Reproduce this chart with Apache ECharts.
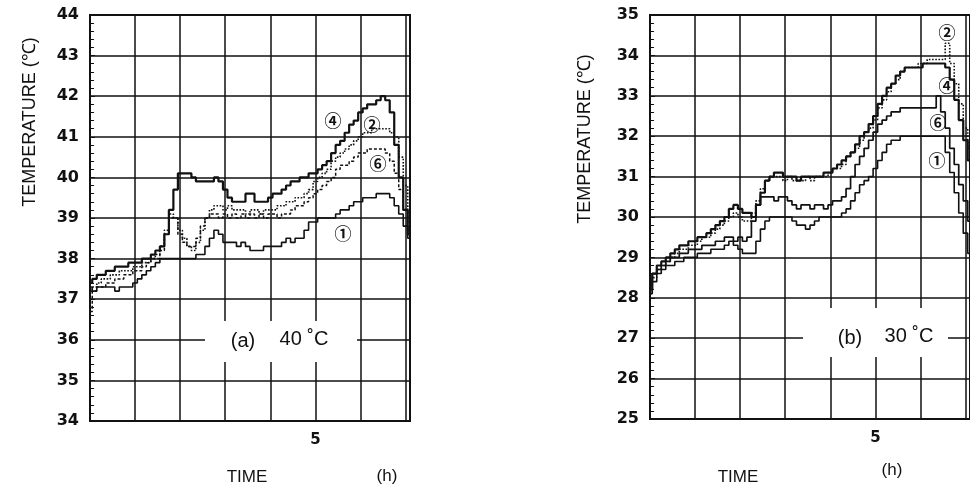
<!DOCTYPE html>
<html>
<head>
<meta charset="utf-8">
<script src="https://cdn.jsdelivr.net/npm/echarts@6/dist/echarts.min.js"></script>
<style>
  html, body { margin: 0; padding: 0; background: #fff; }
  #chart { width: 970px; height: 490px; }
</style>
</head>
<body>
<div id="chart"></div>
<script>
// time axis (h), shared by every curve
const hours = [
  0.0, 0.1, 0.2, 0.3, 0.4, 0.5, 0.6, 0.7, 0.8, 0.9,
  1.0, 1.1, 1.2, 1.3, 1.4, 1.5, 1.6, 1.7, 1.8, 1.9,
  2.0, 2.1, 2.2, 2.3, 2.4, 2.5, 2.6, 2.7, 2.8, 2.9,
  3.0, 3.1, 3.2, 3.3, 3.4, 3.5, 3.6, 3.7, 3.8, 3.9,
  4.0, 4.1, 4.2, 4.3, 4.4, 4.5, 4.6, 4.7, 4.8, 4.9,
  5.0, 5.1, 5.2, 5.3, 5.4, 5.5, 5.6, 5.7, 5.8, 5.9,
  6.0, 6.1, 6.2, 6.3, 6.4, 6.5, 6.6, 6.7, 6.8, 6.9,
  7.0, 7.1
];

// (a) 40 °C
const tempA4 = [
  37.4, 37.5, 37.6, 37.6, 37.7, 37.7, 37.8, 37.8, 37.8, 37.9,
  37.9, 37.9, 38.0, 38.0, 38.1, 38.2, 38.3, 38.6, 39.2, 39.7,
  40.1, 40.1, 40.1, 40.0, 39.9, 39.9, 39.9, 39.9, 40.0, 39.9,
  39.7, 39.5, 39.4, 39.4, 39.4, 39.6, 39.6, 39.4, 39.4, 39.4,
  39.5, 39.6, 39.6, 39.7, 39.8, 39.9, 39.9, 40.0, 40.0, 40.1,
  40.1, 40.2, 40.3, 40.4, 40.6, 40.8, 40.9, 41.1, 41.3, 41.4,
  41.6, 41.7, 41.8, 41.8, 41.9, 42.0, 41.9, 41.6, 40.8, 40.0,
  39.2, 38.6
];
const tempA2 = [
  37.2, 37.3, 37.4, 37.5, 37.5, 37.6, 37.6, 37.7, 37.7, 37.7,
  37.8, 37.8, 37.9, 37.9, 38.0, 38.1, 38.3, 38.7, 39.1, 39.0,
  38.7, 38.5, 38.3, 38.2, 38.4, 38.7, 39.0, 39.2, 39.3, 39.3,
  39.2, 39.3, 39.2, 39.2, 39.2, 39.1, 39.2, 39.2, 39.1, 39.2,
  39.2, 39.2, 39.3, 39.3, 39.4, 39.4, 39.5, 39.5, 39.6, 39.7,
  39.9, 40.0, 40.1, 40.2, 40.4, 40.5, 40.6, 40.7, 40.8, 40.9,
  41.0, 41.1, 41.1, 41.2, 41.2, 41.2, 41.2, 41.1, 41.0, 40.5,
  39.8, 39.1
];
const tempA6 = [
  36.7, 37.2, 37.3, 37.3, 37.4, 37.4, 37.5, 37.5, 37.6, 37.6,
  37.7, 37.7, 37.8, 37.9, 38.0, 38.0, 38.2, 38.6, 39.0, 39.0,
  38.6, 38.4, 38.3, 38.3, 38.5, 38.8, 39.0, 39.1, 39.1, 39.0,
  39.1, 39.0, 39.1, 39.0, 39.1, 39.0, 39.1, 39.0, 39.1, 39.0,
  39.1, 39.1, 39.0, 39.1, 39.1, 39.2, 39.3, 39.3, 39.4, 39.5,
  39.6, 39.7, 39.8, 39.9, 40.0, 40.2, 40.3, 40.3, 40.4, 40.5,
  40.6, 40.6, 40.7, 40.7, 40.7, 40.7, 40.6, 40.4, 40.1, 39.7,
  39.2, 38.7
];
const tempA1 = [
  37.3, 37.2, 37.3, 37.3, 37.3, 37.3, 37.2, 37.3, 37.3, 37.3,
  37.4, 37.5, 37.6, 37.7, 37.8, 37.9, 38.0, 38.0, 38.0, 38.0,
  38.0, 38.0, 38.0, 38.0, 38.1, 38.1, 38.3, 38.5, 38.7, 38.6,
  38.4, 38.4, 38.4, 38.3, 38.4, 38.3, 38.2, 38.2, 38.2, 38.3,
  38.3, 38.3, 38.3, 38.4, 38.5, 38.4, 38.5, 38.5, 38.7, 38.9,
  38.9, 39.0, 39.0, 39.0, 39.0, 39.1, 39.2, 39.2, 39.3, 39.4,
  39.4, 39.5, 39.5, 39.5, 39.6, 39.6, 39.6, 39.5, 39.3, 39.1,
  38.8, 38.5
];

// (b) 30 °C
const tempB4 = [
  28.2, 28.6, 28.8, 28.9, 29.0, 29.1, 29.2, 29.3, 29.3, 29.4,
  29.4, 29.5, 29.5, 29.6, 29.7, 29.8, 29.9, 30.0, 30.2, 30.3,
  30.2, 30.1, 30.1, 30.0, 30.3, 30.6, 30.9, 31.0, 31.1, 31.1,
  31.0, 31.0, 31.0, 30.9, 31.0, 31.0, 31.0, 31.0, 31.0, 31.1,
  31.1, 31.2, 31.3, 31.4, 31.5, 31.6, 31.8, 32.0, 32.1, 32.3,
  32.5, 32.8, 33.0, 33.2, 33.3, 33.5, 33.6, 33.7, 33.7, 33.7,
  33.7, 33.8, 33.8, 33.8, 33.8, 33.8, 33.7, 33.4, 32.9, 32.4,
  31.9, 31.4
];
const tempB2 = [
  28.1, 28.5, 28.7, 28.8, 28.9, 29.0, 29.1, 29.2, 29.2, 29.3,
  29.3, 29.4, 29.5, 29.5, 29.6, 29.7, 29.8, 29.9, 30.0, 30.1,
  30.0, 29.9, 29.9, 30.1, 30.4, 30.7, 30.9, 31.0, 31.0, 31.0,
  30.9, 31.0, 30.9, 30.9, 30.9, 31.0, 30.9, 31.0, 31.0, 31.0,
  31.1, 31.2, 31.2, 31.3, 31.5, 31.6, 31.7, 31.9, 32.1, 32.2,
  32.4, 32.7, 32.9, 33.1, 33.3, 33.4, 33.6, 33.7, 33.7, 33.7,
  33.8, 33.8, 33.9, 33.9, 33.9, 33.9, 34.3, 33.8, 33.3, 32.8,
  32.2, 31.7
];
const tempB6 = [
  28.3, 28.6, 28.7, 28.8, 28.9, 29.0, 29.0, 29.1, 29.1, 29.2,
  29.2, 29.2, 29.3, 29.3, 29.3, 29.4, 29.4, 29.5, 29.5, 29.4,
  29.5, 29.4, 29.5, 29.9, 30.3, 30.5, 30.5, 30.5, 30.4, 30.5,
  30.5, 30.4, 30.3, 30.2, 30.3, 30.3, 30.2, 30.3, 30.3, 30.2,
  30.3, 30.4, 30.4, 30.5, 30.7, 31.0, 31.3, 31.5, 31.7, 31.9,
  32.1, 32.3, 32.4, 32.5, 32.6, 32.6, 32.7, 32.7, 32.7, 32.7,
  32.7, 32.7, 32.7, 32.7, 33.0, 32.6, 32.2, 31.7, 31.3, 30.8,
  30.4, 29.9
];
const tempB1 = [
  28.1, 28.4, 28.6, 28.7, 28.8, 28.8, 28.9, 28.9, 29.0, 29.0,
  29.0, 29.1, 29.1, 29.1, 29.2, 29.2, 29.2, 29.3, 29.4, 29.3,
  29.2, 29.1, 29.1, 29.1, 29.4, 29.7, 29.9, 30.0, 30.0, 30.0,
  30.0, 30.0, 29.9, 29.8, 29.8, 29.7, 29.8, 29.9, 30.0, 30.0,
  30.0, 30.0, 30.0, 30.1, 30.2, 30.4, 30.6, 30.8, 30.9, 31.0,
  31.2, 31.4, 31.6, 31.8, 31.9, 31.9, 32.0, 32.0, 32.0, 32.0,
  32.0, 32.0, 32.0, 32.0, 32.0, 32.0, 31.6, 31.1, 30.6, 30.1,
  29.6, 29.1
];

const xLabelShown = [5];
const yRangeA = [34, 44];
const yRangeB = [25, 35];

const ink = '#111';
const pair = (ys) => hours.map((h, i) => [h, ys[i]]);

const curve = (name, ys, idx, width, type) => ({
  name: name,
  type: 'line',
  xAxisIndex: idx,
  yAxisIndex: idx,
  data: pair(ys),
  showSymbol: false,
  step: 'middle',
  lineStyle: { color: ink, width: width, type: type },
  silent: true,
  z: 3
});

const xAxisOf = (idx) => ({
  type: 'value',
  gridIndex: idx,
  min: 0,
  max: 7.1,
  interval: 1,
  axisLine: { lineStyle: { color: ink, width: 2 } },
  axisTick: { show: false },
  splitLine: { show: true, lineStyle: { color: ink, width: 1.5 } },
  axisLabel: {
    margin: 12,
    color: ink,
    fontFamily: 'DejaVu Sans',
    fontWeight: 'bold',
    fontSize: 15,
    showMinLabel: false,
    showMaxLabel: false,
    formatter: (v) => xLabelShown.includes(v) ? String(v) : ''
  }
});

const yAxisOf = (idx, range) => ({
  type: 'value',
  gridIndex: idx,
  min: range[0],
  max: range[1],
  interval: 1,
  axisLine: { show: true, lineStyle: { color: ink, width: 2 } },
  axisTick: { show: true, inside: true, length: 5, lineStyle: { color: ink } },
  minorTick: { show: true, splitNumber: 5, length: 4, lineStyle: { color: ink, width: 1 } },
  splitLine: { show: true, lineStyle: { color: ink, width: 1.5 } },
  axisLabel: {
    margin: 11,
    color: ink,
    fontFamily: 'DejaVu Sans',
    fontWeight: 'bold',
    fontSize: 16
  }
});

const txt = (x, y, text, size, extra) => Object.assign({
  type: 'text',
  x: x,
  y: y,
  z: 100,
  style: {
    text: text,
    fill: ink,
    font: size + 'px "Liberation Sans", sans-serif',
    textAlign: 'center',
    textVerticalAlign: 'middle'
  }
}, extra || {});

const circ = (x, y, text) => txt(x, y, text, 17, {
  style: {
    text: text,
    fill: ink,
    font: 'bold 17px "Noto Sans CJK JP"',
    textAlign: 'center',
    textVerticalAlign: 'middle'
  }
});

const chart = echarts.init(document.getElementById('chart'), null, { renderer: 'canvas' });

chart.setOption({
  animation: false,
  backgroundColor: '#fff',
  grid: [
    { left: 90, top: 15, width: 320, height: 406, show: true, borderColor: ink, borderWidth: 2, backgroundColor: 'transparent' },
    { left: 650, top: 15, width: 329, height: 404, show: true, borderColor: ink, borderWidth: 2, backgroundColor: 'transparent' }
  ],
  xAxis: [xAxisOf(0), xAxisOf(1)],
  yAxis: [yAxisOf(0, yRangeA), yAxisOf(1, yRangeB)],
  series: [
    curve('① a', tempA1, 0, 1.6, 'solid'),
    curve('② a', tempA2, 0, 1.6, 'dotted'),
    curve('④ a', tempA4, 0, 2.2, 'solid'),
    curve('⑥ a', tempA6, 0, 1.5, [3, 2]),
    curve('① b', tempB1, 1, 1.6, 'solid'),
    curve('② b', tempB2, 1, 1.6, 'dotted'),
    curve('④ b', tempB4, 1, 2.2, 'solid'),
    curve('⑥ b', tempB6, 1, 1.7, 'solid')
  ],
  graphic: [
    // white boxes behind the panel captions
    { type: 'rect', z: 90, shape: { x: 205, y: 321, width: 152, height: 41 }, style: { fill: '#fff' } },
    { type: 'rect', z: 90, shape: { x: 803, y: 308, width: 145, height: 49 }, style: { fill: '#fff' } },
    txt(243, 341, '(a)', 20),
    txt(304, 339, '40 ˚C', 20),
    txt(850, 338, '(b)', 20),
    txt(909, 336, '30 ˚C', 20),

    txt(30, 122, 'TEMPERATURE (℃)', 18, { rotation: Math.PI / 2 }),
    txt(585, 139, 'TEMPERATURE (℃)', 18, { rotation: Math.PI / 2 }),
    txt(247, 477, 'TIME', 17),
    txt(387, 476, '(h)', 17),
    txt(738, 477, 'TIME', 17),
    txt(892, 470, '(h)', 17),

    circ(333, 121, '④'),
    circ(372, 125, '②'),
    circ(378, 164, '⑥'),
    circ(343, 234, '①'),
    circ(947, 33, '②'),
    circ(947, 86, '④'),
    circ(938, 123, '⑥'),
    circ(937, 161, '①')
  ]
});
</script>
</body>
</html>
